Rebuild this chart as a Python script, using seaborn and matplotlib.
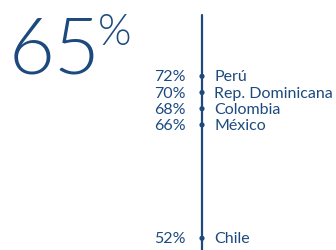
import numpy as np
import pandas as pd
import seaborn as sns
import matplotlib.pyplot as plt

sns.set_style("white")
plt.rcParams['font.family'] = ['Lato', 'DejaVu Sans']

navy = '#1c4a7e'

# Data
countries = ['Perú', 'Rep. Dominicana', 'Colombia', 'México', 'Chile']
values = [72, 70, 68, 66, 52]
headline = 65

df = pd.DataFrame({'country': countries, 'value': values, 'x': 0})

fig = plt.figure(figsize=(3.36, 2.51), dpi=100)
ax = fig.add_axes([0, 0, 1, 1])

# vertical axis line
ax.axvline(0, ymin=0, ymax=(79.6 - 50.55) / 31.0, color=navy, lw=1.6)

sns.scatterplot(data=df, x='x', y='value', ax=ax, color=navy, s=14,
                edgecolor='none', zorder=3)

for _, r in df.iterrows():
    ax.text(-16, r['value'], f"{r['value']}%", ha='right', va='center',
            fontsize=11.5, color=navy)
    ax.text(12, r['value'], r['country'], ha='left', va='center',
            fontsize=11.5, color=navy)

# big headline number
ax.text(-193, 72.45, f"{headline}", ha='left', va='baseline', fontsize=57,
        color=navy, fontweight=300)
ax.text(-104, 76.05, "%", ha='left', va='baseline', fontsize=31,
        color=navy, fontweight=300)

ax.set_xlim(-202, 134)
ax.set_ylim(50.55, 81.55)
ax.axis('off')

fig.savefig('out.png', dpi=100)
